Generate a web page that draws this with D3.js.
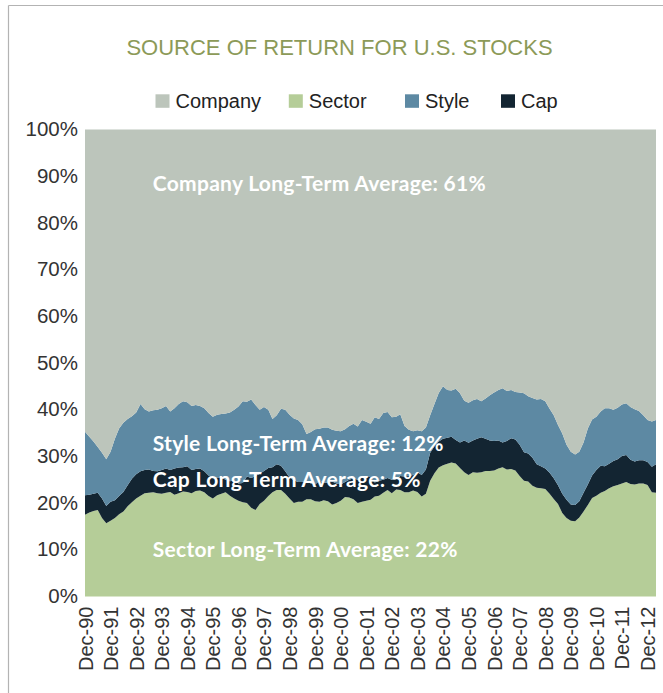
<!DOCTYPE html>
<html><head><meta charset="utf-8">
<script src="https://cdn.jsdelivr.net/npm/d3@7"></script>
<style>body{margin:0;background:#fff}svg{display:block}</style>
</head><body><svg id="c" width="663" height="693"></svg>
<script>
// ---- DATA (share of return, %, every 2 months from Dec-1990) ----
const startMonth = "1990-12-01";
const stepMonths = 2;
const seriesKeys = ["Sector", "Cap", "Style", "Company"];
const legendKeys = ["Company", "Sector", "Style", "Cap"];
const sector = [17.5,18.0,18.3,18.5,16.8,15.7,16.2,16.8,17.6,18.2,19.3,20.2,21.0,21.6,22.1,22.2,22.3,22.1,22.0,22.2,
22.4,21.8,22.1,22.5,22.4,22.1,22.6,22.7,22.3,21.5,21.0,21.7,22.0,22.3,21.6,21.0,20.5,20.2,20.0,19.0,
18.5,19.8,20.5,21.5,22.3,22.8,22.8,22.0,21.0,20.0,20.3,20.3,20.8,20.8,20.4,20.3,20.6,20.4,19.7,20.0,
20.5,21.3,21.2,20.8,20.0,20.3,20.5,20.7,21.4,21.6,22.2,22.8,22.1,22.9,22.8,22.3,22.3,22.7,22.4,21.4,
22.0,24.8,26.4,27.6,28.1,28.4,28.7,28.5,27.5,26.6,26.0,26.6,26.5,26.6,26.9,26.9,27.0,27.4,27.7,27.2,
27.3,27.0,25.8,24.8,24.6,23.7,23.3,23.2,23.0,22.0,20.9,19.8,17.9,16.8,16.2,16.1,16.9,18.2,19.6,21.1,
21.6,22.2,22.6,23.2,23.6,23.9,24.2,24.5,24.1,24.0,24.2,24.2,23.9,22.3,22.2];
const cap = [4.2,3.8,3.7,3.7,4.2,3.7,4.1,3.8,3.9,4.2,4.5,5.0,5.2,5.2,5.0,5.0,4.6,4.7,5.1,5.2,
4.7,5.6,5.5,5.2,5.5,5.0,4.7,4.7,4.5,4.4,4.3,3.8,3.5,2.7,3.1,3.9,3.7,4.1,5.7,6.4,
7.3,6.5,6.4,6.0,5.4,5.5,5.2,4.8,4.5,4.9,4.2,4.2,4.0,3.4,3.6,4.5,3.8,3.9,4.9,4.2,
3.5,3.2,3.8,4.5,5.0,5.2,5.1,4.9,3.0,3.2,2.8,2.6,2.9,2.2,3.0,3.4,3.5,3.3,4.2,4.6,
5.2,6.0,5.8,5.6,5.7,5.6,5.5,5.0,5.5,6.8,6.9,6.8,7.3,7.5,6.9,6.5,6.3,6.0,5.3,6.1,
6.6,6.6,6.7,6.1,6.0,6.0,5.0,4.7,4.4,4.5,4.4,4.0,4.1,3.9,3.5,3.5,3.5,4.0,4.4,4.8,
5.5,5.8,5.3,5.2,5.4,5.5,5.9,5.8,5.2,4.9,5.0,5.0,4.9,5.5,6.1];
const style = [13.6,12.4,11.2,9.8,9.8,10.0,10.7,13.2,14.5,14.8,14.2,13.4,13.2,14.4,13.0,12.4,13.0,13.2,13.2,13.4,
12.5,12.9,13.6,14.1,13.7,13.7,13.7,13.4,13.5,13.4,13.2,13.4,13.6,14.2,14.7,15.1,16.5,17.5,16.0,16.8,
15.2,13.7,13.7,12.5,10.3,10.5,12.2,13.2,13.4,13.2,13.3,12.4,10.0,11.0,11.8,11.1,11.8,11.9,11.1,11.3,
11.4,11.3,11.5,11.7,11.4,12.3,11.8,11.4,14.0,13.2,14.3,14.1,13.4,13.4,13.2,10.8,9.9,9.4,9.0,9.4,
9.0,8.0,9.0,10.4,11.2,10.2,9.9,11.0,10.5,8.5,8.6,8.6,8.5,7.7,8.6,9.7,10.4,10.8,11.6,10.7,
10.3,10.2,11.2,12.6,12.3,12.8,13.9,14.4,14.4,13.7,13.5,12.9,12.9,11.8,11.3,10.8,10.6,10.8,12.0,12.0,
11.4,11.6,12.4,11.9,11.0,11.0,11.0,11.1,11.3,11.2,10.5,9.6,9.0,9.7,9.5];
const company = [64.7,65.8,66.8,68.0,69.2,70.6,69.0,66.2,64.0,62.8,62.0,61.4,60.6,58.8,59.9,60.4,60.1,60.0,59.7,59.2,
60.4,59.7,58.8,58.2,58.4,59.2,59.0,59.2,59.7,60.7,61.5,61.1,60.9,60.8,60.6,60.0,59.3,58.2,58.3,57.8,
59.0,60.0,59.4,60.0,62.0,61.2,59.8,60.0,61.1,61.9,62.2,63.1,65.2,64.8,64.2,64.1,63.8,63.8,64.3,64.5,
64.6,64.2,63.5,63.0,63.6,62.2,62.6,63.0,61.6,62.0,60.7,60.5,61.6,61.5,61.0,63.5,64.3,64.6,64.4,64.6,
63.8,61.2,58.8,56.4,55.0,55.8,55.9,55.5,56.5,58.1,58.5,58.0,57.7,58.2,57.6,56.9,56.3,55.8,55.4,56.0,
55.8,56.2,56.3,56.5,57.1,57.5,57.8,57.7,58.2,59.8,61.2,63.3,65.1,67.5,69.0,69.6,69.0,67.0,64.0,62.1,
61.5,60.4,59.7,59.7,60.0,59.6,58.9,58.6,59.4,59.9,60.3,61.2,62.2,62.5,62.2];
const xTickLabels = ["Dec-90","Dec-91","Dec-92","Dec-93","Dec-94","Dec-95","Dec-96","Dec-97","Dec-98","Dec-99","Dec-00","Dec-01",
"Dec-02","Dec-03","Dec-04","Dec-05","Dec-06","Dec-07","Dec-08","Dec-09","Dec-10","Dec-11","Dec-12"];
const yTickValues = [0,0.1,0.2,0.3,0.4,0.5,0.6,0.7,0.8,0.9,1.0];
const annotationTexts = ["Company Long-Term Average: 61%","Style Long-Term Average: 12%","Cap Long-Term Average: 5%","Sector Long-Term Average: 22%"];
const title = "SOURCE OF RETURN FOR U.S. STOCKS";

// ---- CHART ----
const colors = {Company:"#bcc5bb", Sector:"#b5cd98", Style:"#5d89a3", Cap:"#132532"};
const svg = d3.select("#c");
const parse = d3.timeParse("%Y-%m-%d");
const t0 = parse(startMonth);
const rows = sector.map((v,i)=>({date:d3.timeMonth.offset(t0, i*stepMonths), Sector:v, Cap:cap[i], Style:style[i], Company:company[i]}));

const plot = {left:85, right:656, top:129.5, bottom:596.5};
const x = d3.scaleTime().domain(d3.extent(rows, d=>d.date)).range([plot.left, plot.right]);
const y = d3.scaleLinear().domain([0,1]).range([plot.bottom, plot.top]);

// frame
svg.append("line").attr("x1",8.5).attr("x2",663).attr("y1",5.5).attr("y2",5.5).attr("stroke","#b3b3b3").attr("stroke-width",1.2);
svg.append("line").attr("x1",8.5).attr("x2",8.5).attr("y1",5.5).attr("y2",693).attr("stroke","#b3b3b3").attr("stroke-width",1.2);

const stacked = d3.stack().keys(seriesKeys).offset(d3.stackOffsetExpand)(rows);
const area = d3.area().x(d=>x(d.data.date)).y0(d=>y(d[0])).y1(d=>y(d[1]));
svg.append("g").selectAll("path").data(stacked).join("path")
  .attr("fill", d=>colors[d.key]).attr("d", area);

// title
svg.append("text").attr("x",339.5).attr("y",55).attr("text-anchor","middle")
  .attr("font-family","'Liberation Sans', Arial, sans-serif").attr("font-size",22)
  .attr("fill","#8c9a58").text(title);

// legend
const legendX = {Company:155.5, Sector:288.8, Style:405, Cap:501};
const lg = svg.append("g");
legendKeys.forEach(k=>{
  lg.append("rect").attr("x",legendX[k]).attr("y",94.3).attr("width",14).attr("height",13.5).attr("fill",colors[k]);
  lg.append("text").attr("x",legendX[k]+20).attr("y",108.3)
    .attr("font-family","'Liberation Sans', Arial, sans-serif").attr("font-size",20).attr("fill","#222").text(k);
});

// y axis
const yAxis = d3.axisLeft(y).tickValues(yTickValues).tickFormat(d3.format(".0%")).tickSize(0).tickPadding(7);
const gy = svg.append("g").attr("transform",`translate(${plot.left},0)`).call(yAxis);
gy.select(".domain").remove();
gy.selectAll("text").attr("font-family","'Liberation Sans', Arial, sans-serif").attr("font-size",20.5).attr("fill","#333").attr("dy","0.3em");

// x axis
const xTicks = xTickLabels.map((lab,i)=>d3.timeYear.offset(t0, i));
const xAxis = d3.axisBottom(x).tickValues(xTicks).tickFormat((d,i)=>xTickLabels[i]).tickSize(0).tickPadding(0);
const gx = svg.append("g").attr("transform",`translate(0,${plot.bottom})`).call(xAxis);
gx.select(".domain").remove();
gx.selectAll("text").attr("font-family","'Liberation Sans', Arial, sans-serif").attr("font-size",20).attr("fill","#333")
  .attr("text-anchor","end").attr("transform","translate(0,10) rotate(-90)").attr("dy","0.35em").attr("y",0).attr("x",0);

// annotations
const annY = [191, 450.7, 486.7, 557.3];
annotationTexts.forEach((t,i)=>{
  svg.append("text").attr("x",152.7).attr("y",annY[i])
    .attr("font-family","Lato, 'Open Sans', sans-serif").attr("font-weight","bold").attr("font-size",21)
    .attr("letter-spacing",0.3).attr("fill","#fff").text(t);
});
</script>
</body></html>
